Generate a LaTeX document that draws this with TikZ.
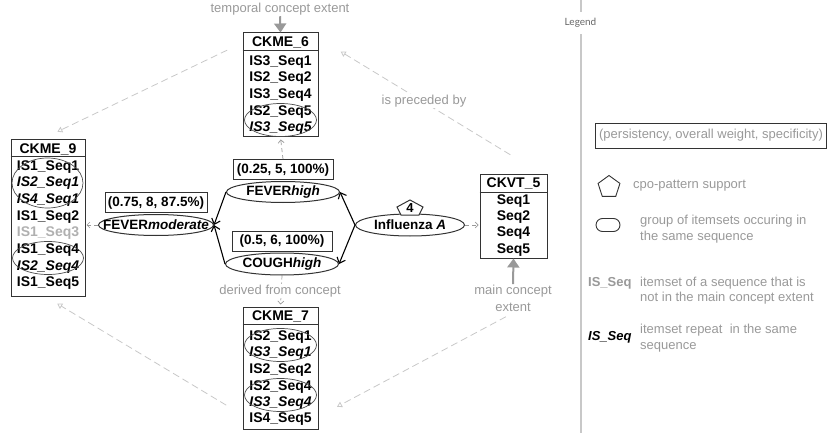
\documentclass[tikz,border=0pt]{standalone}
\usepackage{fontspec}
\setmainfont{Liberation Sans}
\newfontfamily\legendfont{Lato}
\usetikzlibrary{positioning}
\usetikzlibrary{shapes.geometric}
\usetikzlibrary{arrows.meta}
\definecolor{softgray}{HTML}{999999}
\definecolor{palegray}{HTML}{C8C8C8}
\definecolor{outgray}{HTML}{B0B0B0}
\definecolor{boxgray}{HTML}{333333}
\newcommand{\nowidth}[1]{\makebox[0pt]{#1}}
\newcommand{\rowfont}{\fontsize{14}{16}\selectfont\bfseries}
\newcommand{\notefont}{\fontsize{13}{16}\selectfont}
\tikzset{
  conceptbox/.style={draw=boxgray, line width=1pt, minimum width=75pt, inner sep=0pt},
  seqrow/.style={font=\rowfont, inner sep=0pt},
  reprow/.style={font=\rowfont\itshape, inner sep=0pt},
  outrow/.style={font=\rowfont, text=outgray, inner sep=0pt},
  grp/.style={ellipse, draw=black!70, line width=0.7pt, inner sep=0pt, minimum width=72pt, minimum height=33pt},
  item/.style={ellipse, draw=boxgray, line width=1pt, inner sep=0pt, minimum height=21pt, font=\fontsize{13.5}{16}\selectfont\bfseries},
  weightbox/.style={draw=boxgray, line width=0.9pt, minimum width=100pt, minimum height=20pt, inner xsep=3pt, inner ysep=0pt, font=\fontsize{13.5}{16}\selectfont\bfseries},
  note/.style={text=softgray, font=\notefont, inner sep=1pt},
  extentarrow/.style={draw=softgray, line width=2pt, -{Triangle[width=12pt,length=9pt]}},
  relarrow/.style={draw=palegray, line width=0.8pt, dash pattern=on 7pt off 4pt, -{Triangle[open,length=5pt,width=6pt]}},
  linkarrow/.style={draw=softgray, line width=0.7pt, dash pattern=on 4pt off 3pt, -{Straight Barb[length=3pt,width=6pt]}},
  patarrow/.style={draw=black, line width=1.1pt, -{Straight Barb[length=5pt,width=9pt]}}
}

\begin{document}
\begin{tikzpicture}[x=1pt,y=-1pt]
			\useasboundingbox (0,0) rectangle (827,433);
			% concept CKME_6
			\node[conceptbox, minimum height=104pt] (ckme6) at (280.5,85) {};
			\draw[boxgray, line width=1pt] (ckme6.north west) ++(0,18) -- ++(75,0);
			\node[seqrow] (ckme6h) at (280.5,42) {CKME\_6};
			\node[seqrow] (r61) at (280.5,62) {IS3\_Seq1};
			\node[seqrow] (r62) at (280.5,78) {IS2\_Seq2};
			\node[seqrow] (r63) at (280.5,95) {IS3\_Seq4};
			\node[seqrow] (r64) at (280.5,112) {IS2\_Seq5};
			\node[reprow] (r65) at (280.5,128) {IS3\_Seq5};
			\node[grp] (g61) at (280.5,120) {};
			% concept CKME_7
			\node[conceptbox, minimum height=122pt] (ckme7) at (280.5,368) {};
			\draw[boxgray, line width=1pt] (ckme7.north west) ++(0,18) -- ++(75,0);
			\node[seqrow] (ckme7h) at (280.5,316) {CKME\_7};
			\node[seqrow] (r71) at (280.5,337) {IS2\_Seq1};
			\node[reprow] (r72) at (280.5,353) {IS3\_Seq1};
			\node[seqrow] (r73) at (280.5,370) {IS2\_Seq2};
			\node[seqrow] (r74) at (280.5,387) {IS2\_Seq4};
			\node[reprow] (r75) at (280.5,403) {IS3\_Seq4};
			\node[seqrow] (r76) at (280.5,419) {IS4\_Seq5};
			\node[grp] (g71) at (280.5,345) {};
			\node[grp] (g72) at (280.5,395) {};
			% concept CKME_9
			\node[conceptbox, minimum width=74pt, minimum height=156pt] (ckme9) at (48,218) {};
			\draw[boxgray, line width=1pt] (ckme9.north west) ++(0,17) -- ++(74,0);
			\node[seqrow] (ckme9h) at (48,149) {CKME\_9};
			\node[seqrow] (r91) at (48,167) {IS1\_Seq1};
			\node[reprow] (r92) at (48,183) {IS2\_Seq1};
			\node[reprow] (r93) at (48,200) {IS4\_Seq1};
			\node[seqrow] (r94) at (48,217) {IS1\_Seq2};
			\node[outrow] (r95) at (48,233) {IS1\_Seq3};
			\node[seqrow] (r96) at (48,250) {IS1\_Seq4};
			\node[reprow] (r97) at (48,267) {IS2\_Seq4};
			\node[seqrow] (r98) at (48,283) {IS1\_Seq5};
			\node[grp, minimum width=71pt, minimum height=50pt] (g91) at (47.5,183) {};
			\node[grp, minimum width=71pt] (g92) at (48,258) {};
			% concept CKVT_5
			\node[conceptbox, minimum width=67pt, minimum height=84pt] (ckvt) at (513.5,216) {};
			\draw[boxgray, line width=1pt] (ckvt.north west) ++(0,19) -- ++(67,0);
			\node[seqrow] (ckvth) at (513.5,183) {CKVT\_5};
			\node[seqrow] (s1) at (513.5,201) {Seq1};
			\node[seqrow] (s2) at (513.5,217) {Seq2};
			\node[seqrow] (s4) at (513.5,233) {Seq4};
			\node[seqrow] (s5) at (513.5,250) {Seq5};
			% pattern items
			\node[item, minimum width=109pt, minimum height=22pt] (flu) at (410,225) {\nowidth{Influenza \textit{A}}};
			\node[item, minimum width=113pt] (fevhigh) at (283,192) {\nowidth{FEVER\textit{high}}};
			\node[item, minimum width=113pt, minimum height=22pt] (cough) at (282,264) {\nowidth{COUGH\textit{high}}};
			\node[item, minimum width=115pt] (fevmod) at (156,225) {\nowidth{FEVER\textit{moderate}}};
			\node[weightbox, above=1pt of fevhigh] (wfevhigh) {(0.25, 5, 100\%)};
			\node[weightbox, above=1pt of cough] (wcough) {(0.5, 6, 100\%)};
			\node[weightbox, above=1pt of fevmod] (wfevmod) {(0.75, 8, 87.5\%)};
			% support pentagon
			\coordinate (supp) at (410,208);
			\draw[boxgray, line width=1pt, fill=white] ([shift={(0,-8)}]supp) -- ([shift={(13,-1)}]supp) -- ([shift={(9,7)}]supp) -- ([shift={(-9,7)}]supp) -- ([shift={(-13,-1)}]supp) -- cycle;
			\node[font=\fontsize{13}{16}\selectfont\bfseries, inner sep=0pt] (suppval) at (supp) {4};
			% pattern arrows
			\draw[patarrow] (flu.west) -- (fevhigh.east);
			\draw[patarrow] (flu.west) -- (cough.east);
			\draw[patarrow] (fevhigh.west) -- (fevmod.east);
			\draw[patarrow] (cough.west) -- (fevmod.east);
			% extent labels
			\node[note] (temporal) at (280,9) {temporal concept extent};
			\draw[extentarrow] (temporal.south) -- (ckme6.north);
			\node[note, align=center, font=\fontsize{13}{17}\selectfont] (mainlbl) at (513,298.5) {main concept\\extent};
			\draw[extentarrow] (mainlbl.north) -- (ckvt.south);
			% derivation links
			\draw[linkarrow, shorten >=2pt] (wfevhigh.north) -- (ckme6.south);
			\draw[linkarrow, shorten >=2pt] (cough.south) -- (ckme7.north);
			\draw[linkarrow, shorten >=1pt] (fevmod.west) -- (fevmod.west -| ckme9.east);
			\draw[linkarrow, shorten >=1pt] (flu.east) -- (flu.east -| ckvt.west);
			\node[note, fill=white] (derived) at (280,291) {derived from concept};
			% temporal relations
			\draw[relarrow, shorten <=36pt, shorten >=26pt] (ckvt.57) -- (ckme6.51);
			\draw[relarrow, shorten <=17pt, shorten >=18pt] (ckme6.132) -- (ckme9.95);
			\draw[relarrow, shorten <=19pt, shorten >=14pt] (ckme7.231) -- (ckme9.268);
			\draw[relarrow, shorten <=8pt, shorten >=21pt] (mainlbl.south) -- (ckme7.308);
			\node[note, fill=white] (preceded) at (424,101) {is preceded by};
			% legend
			\draw[draw=palegray, line width=2pt] (581,0) -- (581,433);
			\node[fill=white, inner xsep=1pt, inner ysep=6pt, text=black!60, font=\legendfont\fontsize{10}{12}\selectfont] (legend) at (580.5,23) {Legend};
			\node[draw=boxgray, line width=0.9pt, minimum width=228pt, minimum height=25pt, text=softgray, font=\notefont] (weightkey) at (711,135.5) {(persistency, overall weight, specificity)};
			\node[regular polygon, regular polygon sides=5, draw=boxgray, line width=0.9pt, minimum size=23pt, inner sep=0pt] (pentkey) at (609,187) {};
			\node[note, anchor=west] (pentnote) at (632,186) {cpo-pattern support};
			\node[draw=boxgray, line width=0.9pt, rounded corners=6.5pt, minimum width=24pt, minimum height=13pt, inner sep=0pt] (grpkey) at (608,225) {};
			\node[note, anchor=west, align=left] (grpnote) at (639,229) {group of itemsets occuring in\\the same sequence};
			\node[note, anchor=west, font=\fontsize{13}{16}\selectfont\bfseries] (outkey) at (587,283) {IS\_Seq};
			\node[note, anchor=west, align=left, font=\fontsize{13}{15.5}\selectfont] (outnote) at (639,290.5) {itemset of a sequence that is\\not in the main concept extent};
			\node[anchor=west, inner sep=1pt, font=\fontsize{13}{16}\selectfont\bfseries\itshape] (repkey) at (587,337) {IS\_Seq};
			\node[note, anchor=west, align=left] (repnote) at (639,338) {itemset repeat \ in the same\\sequence};
		\end{tikzpicture}
\end{document}
